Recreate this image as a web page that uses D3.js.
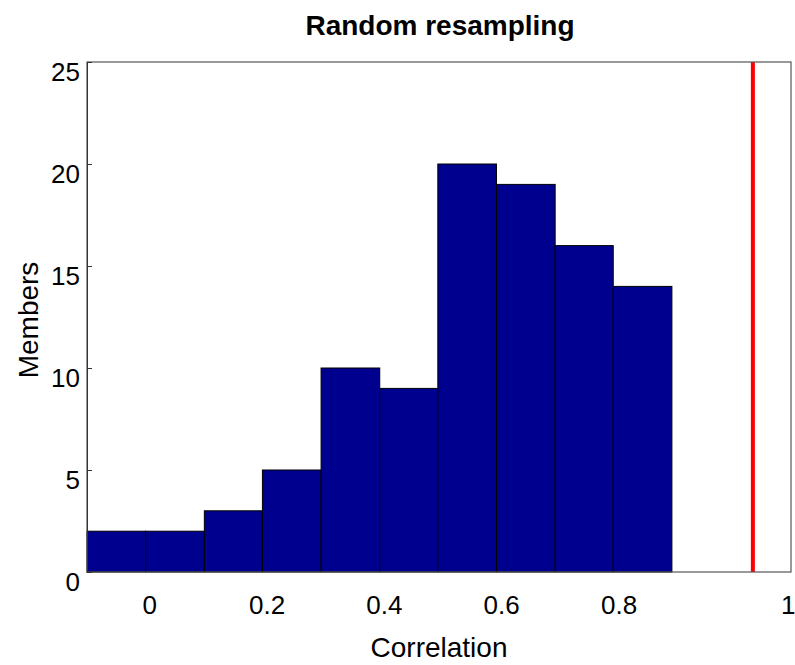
<!DOCTYPE html>
<html>
<head>
<meta charset="utf-8">
<script src="https://cdn.jsdelivr.net/npm/d3@7"></script>
<style>
  html, body { margin: 0; padding: 0; background: #fff; }
  svg { display: block; }
  text { font-family: "Liberation Sans", Arial, sans-serif; fill: #000; }
</style>
</head>
<body>
<svg id="chart" width="795" height="665"></svg>
<script>
// ---- data ----
const title = "Random resampling";
const xLabel = "Correlation";
const yLabel = "Members";
const binEdges = [-0.106, -0.006, 0.094, 0.193, 0.293, 0.393, 0.492, 0.592, 0.692, 0.791, 0.891];
const counts = [2, 2, 3, 5, 10, 9, 20, 19, 16, 14];
const xDomain = [-0.106, 1.094];
const yDomain = [0, 25];
const xTickValues = [0, 0.2, 0.4, 0.6, 0.8, 1.094];
const xTickLabels = ["0", "0.2", "0.4", "0.6", "0.8", "1"];
const yTickValues = [0, 5, 10, 15, 20, 25];
const observed = 1.029;

// ---- layout ----
const svg = d3.select("#chart");
const margin = {left: 87, right: 4, top: 62, bottom: 93};
const W = 795, H = 665;
const x = d3.scaleLinear().domain(xDomain).range([margin.left, W - margin.right]);
const y = d3.scaleLinear().domain(yDomain).range([H - margin.bottom, margin.top]);

const bins = counts.map((c, i) => ({x0: binEdges[i], x1: binEdges[i + 1], n: c}));

// bars
svg.append("g").selectAll("rect").data(bins).join("rect")
  .attr("x", d => x(d.x0))
  .attr("width", d => x(d.x1) - x(d.x0))
  .attr("y", d => y(d.n))
  .attr("height", d => y(0) - y(d.n))
  .attr("fill", "#00008f")
  .attr("stroke", "#000")
  .attr("stroke-width", 1);

// observed line
svg.append("line")
  .attr("x1", x(observed)).attr("x2", x(observed))
  .attr("y1", y(yDomain[1])).attr("y2", y(0))
  .attr("stroke", "#ff0000").attr("stroke-width", 4);

// box
svg.append("rect")
  .attr("x", x(xDomain[0])).attr("y", y(yDomain[1]))
  .attr("width", x(xDomain[1]) - x(xDomain[0]))
  .attr("height", y(0) - y(yDomain[1]))
  .attr("fill", "none").attr("stroke", "#555").attr("stroke-width", 1.2);

// y axis
const yAxis = d3.axisLeft(y).tickValues(yTickValues).tickSize(-5).tickPadding(8).tickFormat(d3.format("d"));
const gy = svg.append("g").attr("transform", `translate(${x(xDomain[0])},0)`).call(yAxis);
gy.select(".domain").attr("stroke", "#333");
gy.selectAll(".tick line").attr("stroke", "#333");
gy.selectAll(".tick text")
  .style("font-size", "26px")
  .attr("dy", "0.71em")
  .attr("x", -7);

// x axis
const xAxis = d3.axisBottom(x).tickValues(xTickValues).tickSize(0).tickPadding(24)
  .tickFormat((d, i) => xTickLabels[i]);
const gx = svg.append("g").attr("transform", `translate(0,${y(0)})`).call(xAxis);
gx.select(".domain").remove();
gx.selectAll(".tick text").style("font-size", "26px");
gx.selectAll(".tick text").filter((d, i) => i === xTickValues.length - 1)
  .attr("text-anchor", "end").attr("x", 4);

// title
svg.append("text")
  .attr("x", 440).attr("y", 35)
  .attr("text-anchor", "middle")
  .style("font-size", "28px").style("font-weight", "bold")
  .text(title);

// x label
svg.append("text")
  .attr("x", 439).attr("y", 657)
  .attr("text-anchor", "middle")
  .style("font-size", "28px")
  .text(xLabel);

// y label
svg.append("text")
  .attr("transform", `translate(38,${(y(0) + y(25)) / 2 + 3}) rotate(-90)`)
  .attr("text-anchor", "middle")
  .style("font-size", "28px")
  .text(yLabel);
</script>
</body>
</html>
